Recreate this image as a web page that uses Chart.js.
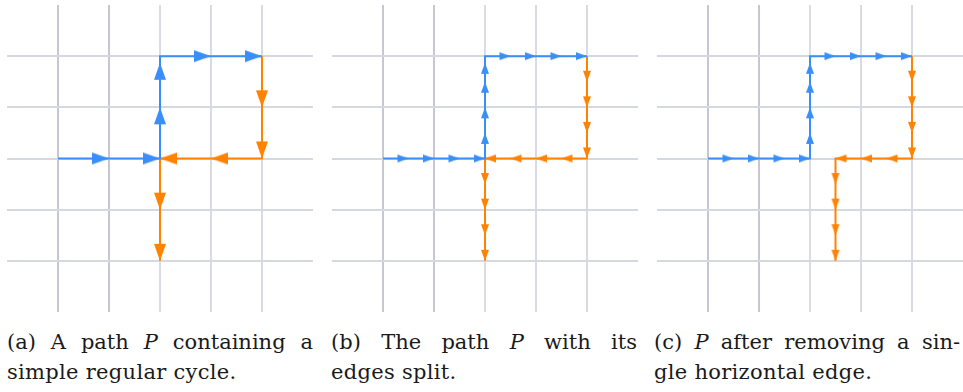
<!DOCTYPE html>
<html>
<head>
<meta charset="utf-8">
<script src="https://cdn.jsdelivr.net/npm/chart.js@4"></script>
<style>
    body { margin: 0; background: #fff; width: 963px; height: 392px; position: relative; overflow: hidden; }
    .panel { position: absolute; top: 5px; width: 306px; height: 307px; }
    .caption { position: absolute; top: 327px; width: 306px; font-family: "DejaVu Serif", serif; font-size: 21px; line-height: 30px; color: #1a1a1a; letter-spacing: 0.3px; }
    .caption .l1 { text-align: justify; text-align-last: justify; white-space: nowrap; letter-spacing: 0; }
</style>
</head>
<body>
<div class="panel" style="left:7px"><canvas id="chartA"></canvas></div>
<div class="panel" style="left:332px"><canvas id="chartB"></canvas></div>
<div class="panel" style="left:657px"><canvas id="chartC"></canvas></div>
<div class="caption" style="left:7px"><div class="l1">(a) A path <i>P</i> containing a</div><div>simple regular cycle.</div></div>
<div class="caption" style="left:331px"><div class="l1">(b) The path <i>P</i> with its</div><div>edges split.</div></div>
<div class="caption" style="left:654px"><div class="l1">(c) <i>P</i> after removing a sin-</div><div>gle horizontal edge.</div></div>
<script>
const gridTicks = [1, 2, 3, 4, 5]

// path vertices, grid units (x right, y up)
const blueA = [[1, 3], [3, 3], [3, 5], [5, 5]]
const orangeA = [[5, 5], [5, 3], [3, 3], [3, 1]]
const blueB = [[1, 3], [3, 3], [3, 5], [5, 5]]
const orangeB = [[5, 5], [5, 3], [3, 3], [3, 1]]
const blueC = [[1, 3], [3, 3], [3, 5], [5, 5]]
const orangeC = [[5, 5], [5, 3], [3.5, 3], [3.5, 1]]

// arrow tips: x, y, direction
const blueTipsA = [[2, 3, "r"], [3, 3, "r"], [3, 4, "u"], [3, 4.87, "u"], [4, 5, "r"], [5, 5, "r"]]
const orangeTipsA = [[5, 4, "d"], [5, 3, "d"], [4, 3, "l"], [3, 3, "l"], [3, 2, "d"], [3, 1, "d"]]
const blueTipsB = [[1.5, 3, "r"], [2, 3, "r"], [2.5, 3, "r"], [3, 3, "r"],
    [3, 3.5, "u"], [3, 4, "u"], [3, 4.5, "u"], [3, 4.87, "u"],
    [3.5, 5, "r"], [4, 5, "r"], [4.5, 5, "r"], [5, 5, "r"]]
const orangeTipsB = [[5, 4.5, "d"], [5, 4, "d"], [5, 3.5, "d"], [5, 3, "d"],
    [4.5, 3, "l"], [4, 3, "l"], [3.5, 3, "l"], [3, 3, "l"],
    [3, 2.5, "d"], [3, 2, "d"], [3, 1.5, "d"], [3, 1, "d"]]
const blueTipsC = [[1.5, 3, "r"], [2, 3, "r"], [2.5, 3, "r"], [3, 3, "r"],
    [3, 3.5, "u"], [3, 4, "u"], [3, 4.5, "u"], [3, 4.87, "u"],
    [3.5, 5, "r"], [4, 5, "r"], [4.5, 5, "r"], [5, 5, "r"]]
const orangeTipsC = [[5, 4.5, "d"], [5, 4, "d"], [5, 3.5, "d"], [5, 3, "d"],
    [4.5, 3, "l"], [4, 3, "l"], [3.5, 3, "l"],
    [3.5, 2.5, "d"], [3.5, 2, "d"], [3.5, 1.5, "d"], [3.5, 1, "d"]]

const blue = "rgb(58, 142, 248)"
const orange = "rgb(255, 130, 0)"
const rotations = { r: 0, d: 90, l: 180, u: 270 }

function makeArrow(color, len, wid) {
    // tip sits at the canvas centre, pointing right
    const size = Math.ceil(len * 2 + 2)
    const c = document.createElement("canvas")
    c.width = size
    c.height = size
    const g = c.getContext("2d")
    const m = size / 2
    g.fillStyle = color
    g.beginPath()
    g.moveTo(m, m)
    g.lineTo(m - len, m - wid / 2)
    g.lineTo(m - len, m + wid / 2)
    g.closePath()
    g.fill()
    return c
}

function toPoints(list) {
    return list.map(p => ({ x: p[0], y: p[1], d: p[2] }))
}

function lineSet(path, color) {
    return {
        data: toPoints(path),
        showLine: true,
        borderColor: color,
        borderWidth: 2,
        pointRadius: 0,
        borderJoinStyle: "miter"
    }
}

function tipSet(tips, color, len, wid) {
    return {
        data: toPoints(tips),
        showLine: false,
        pointRadius: 6,
        pointStyle: makeArrow(color, len, wid),
        rotation: ctx => rotations[ctx.raw.d]
    }
}

function axis(colors) {
    return {
        type: "linear",
        min: 0,
        max: 6,
        afterBuildTicks: scale => {
            scale.ticks = [0].concat(gridTicks).concat([6]).map(v => ({ value: v }))
        },
        ticks: { display: false },
        border: { display: false },
        grid: {
            drawTicks: false,
            lineWidth: 2,
            color: ctx => {
                let v = ctx.tick ? ctx.tick.value : 0
                if (v == 0 || v == 6) return "rgba(0,0,0,0)"
                return colors[v - 1]
            }
        }
    }
}

function createPanel(id, blueLine, orangeLine, blueTips, orangeTips, len, wid) {
    const vColors = ["rgb(198,199,210)", "rgb(198,199,210)", "rgb(218,220,230)", "rgb(216,218,228)", "rgb(216,218,228)"]
    const hColors = ["rgb(214,216,224)", "rgb(214,216,224)", "rgb(214,216,224)", "rgb(214,216,224)", "rgb(214,216,224)"]
    const chartConfig = {
        type: "scatter",
        data: {
            datasets: [
                lineSet(blueLine, blue),
                lineSet(orangeLine, orange),
                tipSet(blueTips, blue, len, wid),
                tipSet(orangeTips, orange, len, wid)
            ]
        },
        options: {
            responsive: true,
            maintainAspectRatio: false,
            animation: false,
            events: [],
            layout: { padding: 0, autoPadding: false },
            plugins: { legend: { display: false }, tooltip: { enabled: false } },
            scales: {
                x: axis(vColors),
                y: axis(hColors)
            }
        }
    }
    new Chart(document.getElementById(id), chartConfig)
}

createPanel("chartA", blueA, orangeA, blueTipsA, orangeTipsA, 17, 12)
createPanel("chartB", blueB, orangeB, blueTipsB, orangeTipsB, 11, 8)
createPanel("chartC", blueC, orangeC, blueTipsC, orangeTipsC, 11, 8)
</script>
</body>
</html>
